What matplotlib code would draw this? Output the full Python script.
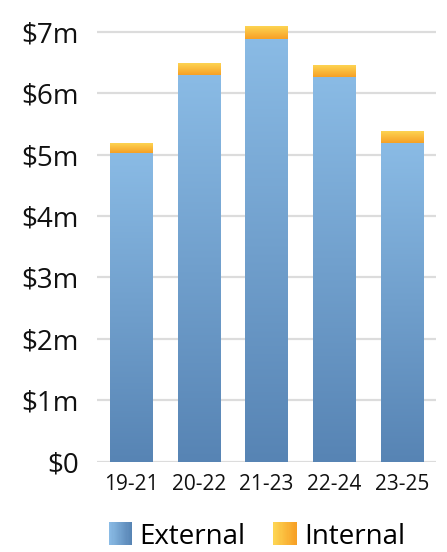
import numpy as np
import matplotlib.pyplot as plt
from matplotlib.patches import Rectangle
from matplotlib.legend_handler import HandlerBase
from matplotlib.colors import LinearSegmentedColormap

plt.rcParams['font.family'] = ['Open Sans', 'DejaVu Sans']

periods = ['19-21', '20-22', '21-23', '22-24', '23-25']
external = [5.03, 6.30, 6.88, 6.27, 5.19]
internal = [0.16, 0.19, 0.20, 0.19, 0.19]
yticks = [0, 1, 2, 3, 4, 5, 6, 7]
ylabels = ['$0', '$1m', '$2m', '$3m', '$4m', '$5m', '$6m', '$7m']

blue_cm = LinearSegmentedColormap.from_list('b', ['#5784b4', '#8abbe5'])
orange_cm = LinearSegmentedColormap.from_list('o', ['#f7a025', '#fdd452'])

fig = plt.figure(figsize=(4.47, 5.52), dpi=100)
ax = fig.add_axes([0.217, 0.1636, 0.758, 0.79])

x = np.arange(len(periods))
b1 = ax.bar(x, external, width=0.62, color='none', zorder=3)
b2 = ax.bar(x, internal, width=0.62, bottom=external, color='none', zorder=3)

# vertical gradient fill for each bar segment
grad = np.linspace(0, 1, 256).reshape(-1, 1)
for bars, cm in [(b1, blue_cm), (b2, orange_cm)]:
    for r in bars:
        x0, y0 = r.get_x(), r.get_y()
        w, h = r.get_width(), r.get_height()
        ax.imshow(grad, cmap=cm, origin='lower', aspect='auto',
                  extent=[x0, x0 + w, y0, y0 + h], zorder=3, clip_on=False)

ax.set_xlim(-0.5, len(periods) - 0.5)
ax.set_ylim(0, 7.1)
ax.set_yticks(yticks)
ax.set_yticklabels(ylabels)
ax.set_xticks(x)
ax.set_xticklabels(periods)
ax.tick_params(axis='y', length=0, labelsize=20, pad=13, colors='#111111')
ax.tick_params(axis='x', length=0, labelsize=15, pad=9, colors='#111111')
for s in ax.spines.values():
    s.set_visible(False)
for t in yticks:
    ax.axhline(t, color='#dcdcdc', lw=1.6, zorder=1)


class GradHandler(HandlerBase):
    def __init__(self, cm):
        super().__init__()
        self.cm = cm

    def create_artists(self, legend, orig_handle, xdescent, ydescent,
                       width, height, fontsize, trans):
        n = 20
        arts = []
        side = height * 1.2
        y0 = -ydescent - (side - height) / 2
        for i in range(n):
            c = self.cm(1 - i / (n - 1))
            arts.append(Rectangle((-xdescent + i * side / n, y0), side / n + 0.05, side,
                                  facecolor=c, edgecolor='none', transform=trans))
        return arts


hb = Rectangle((0, 0), 1, 1)
ho = Rectangle((0, 0), 1, 1)
orange_leg = LinearSegmentedColormap.from_list('ol', ['#f7a025', '#fdd452'])
blue_leg = LinearSegmentedColormap.from_list('bl', ['#5784b4', '#8abbe5'])
fig.legend([hb, ho], ['External', 'Internal'], loc='center',
           bbox_to_anchor=(0.575, 0.028), ncol=2, frameon=False, fontsize=20,
           handler_map={hb: GradHandler(blue_leg), ho: GradHandler(orange_leg)},
           handlelength=0.8, handletextpad=0.3, columnspacing=1.0)

fig.savefig('out.png', dpi=100)
